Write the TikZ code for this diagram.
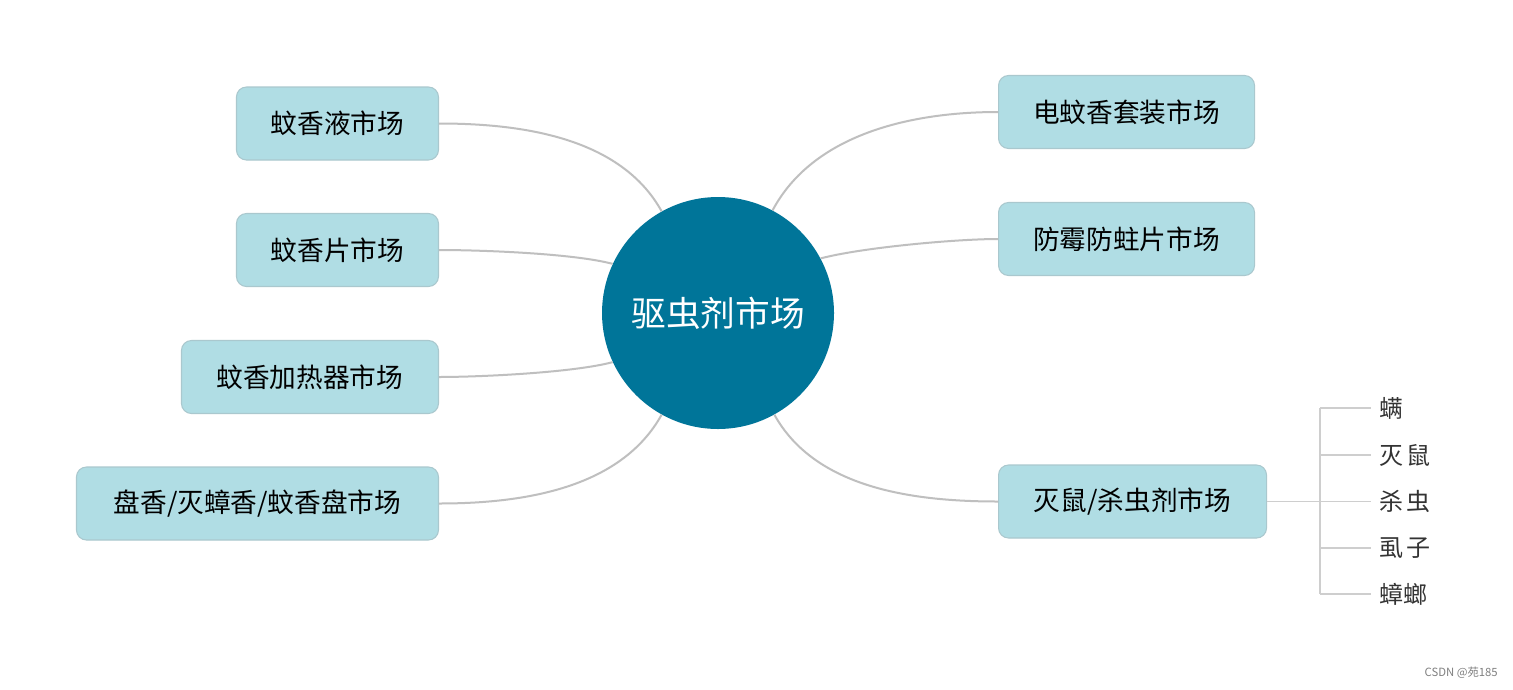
\documentclass[tikz,border=0pt]{standalone}
\usepackage{fontspec}
\setmainfont{Noto Sans CJK SC}
\newfontfamily\cjk{Noto Sans CJK SC}
\definecolor{hubblue}{RGB}{0,117,153}
\definecolor{boxfill}{RGB}{176,221,228}
\definecolor{boxline}{RGB}{170,200,206}
\definecolor{linkgray}{RGB}{191,191,191}
\definecolor{leafgray}{RGB}{206,206,206}
\definecolor{leaftext}{RGB}{51,51,51}
\newcommand{\gapch}{\hspace{2.5pt}}
\begin{document}
\begin{tikzpicture}[x=0.75pt,y=-0.75pt,
  topic/.style={draw=boxline,line width=0.8pt,fill=boxfill,rounded corners=7.5pt,
    minimum height=54.75pt,inner sep=0pt,font=\cjk\fontsize{20pt}{24pt}\selectfont,text=black},
  hub/.style={circle,fill=hubblue,minimum size=174pt,inner sep=0pt,
    font=\cjk\fontsize{26pt}{30pt}\selectfont,text=white},
  link/.style={draw=linkgray,line width=1.5pt},
  leafline/.style={draw=leafgray,line width=0.8pt},
  leaf/.style={anchor=west,inner sep=0pt,font=\cjk\fontsize{18pt}{20pt}\selectfont,text=leaftext}
]
\useasboundingbox (0,0) rectangle (1513,689);
\fill[white] (0,0) rectangle (1513,689);

\node[hub] (c) at (718,313) {驱虫剂市场};

\node[topic,anchor=east,minimum width=151.5pt] (l1) at (439,123.5) {蚊香液市场};
\node[topic,anchor=east,minimum width=151.5pt] (l2) at (439,250) {蚊香片市场};
\node[topic,anchor=east,minimum width=192.75pt] (l3) at (439,377) {蚊香加热器市场};
\node[topic,anchor=east,minimum width=271.5pt] (l4) at (439,503.5) {盘香/灭蟑香/蚊香盘市场};

\node[topic,anchor=west,minimum width=192pt] (r1) at (998,112) {电蚊香套装市场};
\node[topic,anchor=west,minimum width=192pt] (r2) at (998,239) {防霉防蛀片市场};
\node[topic,anchor=west,minimum width=201pt] (r3) at (998,501.5) {灭鼠/杀虫剂市场};

\draw[link] (l1.east) to[out=0,in=119,looseness=0.9] (c.119);
\draw[link] (l2.east) to[out=0,in=165,looseness=0.6] (c.155);
\draw[link] (l3.east) to[out=0,in=195,looseness=0.6] (c.205);
\draw[link] (l4.east) to[out=0,in=241,looseness=0.9] (c.241);

\draw[link] (r1.west) to[out=180,in=62,looseness=0.9] (c.62);
\draw[link] (r2.west) to[out=180,in=15,looseness=0.6] (c.28);
\draw[link] (r3.west) to[out=180,in=-61,looseness=0.9] (c.-61);

\coordinate (j) at (1320,501.5);
\node[leaf] (s1) at (1379,408) {螨};
\node[leaf] (s2) at (1379,455) {灭\gapch 鼠};
\node[leaf] (s3) at (1379,501.5) {杀\gapch 虫};
\node[leaf] (s4) at (1379,548) {虱\gapch 子};
\node[leaf] (s5) at (1379,594) {蟑螂};
\draw[leafline] (r3.east) -- (j);
\draw[leafline] (j |- s1.west) -- (j |- s5.west);
\foreach \s in {s1,s2,s3,s4,s5}
  \draw[leafline] (j |- \s.west) -- ([xshift=-6pt]\s.west);

\node[anchor=east,inner sep=0pt,font=\cjk\fontsize{8.5pt}{9pt}\selectfont,text=gray] (wm) at (1498,673) {CSDN @苑185};
\end{tikzpicture}
\end{document}
